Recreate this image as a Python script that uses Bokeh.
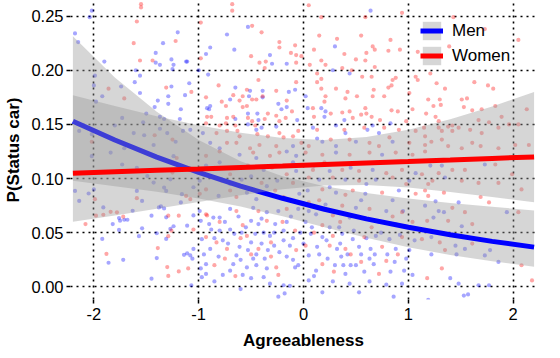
from bokeh.plotting import figure
from bokeh.models import Range1d, FixedTicker, NumeralTickFormatter, Legend, LegendItem
from bokeh.embed import file_html
from bokeh.resources import INLINE

# ---- fitted curves ----
grid_x = [-2.2, -1.8, -1.4, -1.0, -0.6, -0.2, 0.2, 0.6, 1.0, 1.4, 1.8, 2.2]
men_fit = [0.1530, 0.1356, 0.1198, 0.1057, 0.0930, 0.0818, 0.0717, 0.0628, 0.0550, 0.0481, 0.0420, 0.0367]
men_lo = [0.0979, 0.0930, 0.0878, 0.0817, 0.0742, 0.0651, 0.0550, 0.0453, 0.0367, 0.0295, 0.0236, 0.0187]
men_hi = [0.2313, 0.1934, 0.1616, 0.1357, 0.1160, 0.1022, 0.0930, 0.0866, 0.0816, 0.0775, 0.0739, 0.0706]
women_fit = [0.1050, 0.1063, 0.1076, 0.1089, 0.1103, 0.1116, 0.1130, 0.1144, 0.1157, 0.1171, 0.1186, 0.1200]
women_lo = [0.0602, 0.0660, 0.0721, 0.0784, 0.0847, 0.0901, 0.0936, 0.0941, 0.0917, 0.0877, 0.0830, 0.0782]
women_hi = [0.1769, 0.1669, 0.1576, 0.1493, 0.1424, 0.1374, 0.1356, 0.1383, 0.1450, 0.1547, 0.1665, 0.1799]

# ---- observations (x = agreeableness, y = probability) ----
men_points = [
    (-2.02,0.255),(-2.04,0.249),(-2.18,0.234),(-2.15,0.226),(-1.20,0.235),(-1.34,0.225),(-1.41,0.216),(-1.26,0.210),
    (-1.90,0.208),(-1.41,0.207),(-1.37,0.205),(-1.24,0.205),(-1.25,0.201),(-1.12,0.208),(-1.60,0.200),(-1.99,0.195),
    (-1.56,0.195),(-1.61,0.189),(-1.74,0.185),(-1.26,0.185),(-1.56,0.179),(-1.92,0.176),(-1.29,0.176),(-1.13,0.177),
    (-1.39,0.172),(-1.29,0.169),(-1.17,0.164),(-1.42,0.166),(-1.50,0.160),(-1.37,0.157),(-1.33,0.155),(-1.18,0.155),
    (-1.73,0.156),(-1.98,0.171),(-2.00,0.186),(-1.53,0.152),(-2.14,0.144),(-2.02,0.141),(-1.80,0.149),(-1.62,0.142),
    (-1.52,0.140),(-1.43,0.131),(-1.71,0.128),(-1.37,0.146),(-1.22,0.134),(-1.15,0.144),(-1.30,0.142),
    (-2.18,0.0886),(-2.14,0.0794),(-2.05,0.0862),(-2.00,0.090),(-1.91,0.0734),(-1.76,0.0636),(-1.75,0.0611),(-1.71,0.062),
    (-1.68,0.062),(-1.82,0.058),(-1.76,0.0526),(-1.92,0.0443),(-1.63,0.0703),(-1.59,0.0886),(-1.54,0.0794),(-1.73,0.113),
    (-1.45,0.0657),(-1.54,0.0541),(-1.57,0.0468),(-1.38,0.0734),(-1.36,0.0743),(-1.33,0.0724),(-1.31,0.0642),(-1.27,0.0535),
    (-1.24,0.056),(-1.31,0.0443),(-1.40,0.0495),(-1.40,0.0266),(-1.14,0.0296),(-1.45,0.0076),(-1.86,0.0223),(-1.72,0.025),
    (-1.11,0.0565),(-1.17,0.078),(-1.16,0.0856),(-1.59,0.110),(-1.27,0.0993),(-1.33,0.0917),(-1.43,0.0963),(-1.49,0.1023),
    (-1.24,0.1207),(-1.31,0.0886),(-1.84,0.124),(-2.02,0.1207),(-1.11,0.031),(-1.06,0.026),(-0.98,0.017),(-0.98,0.061),
    (-0.53,0.240),(-0.73,0.233),(-0.89,0.221),(-0.66,0.219),(-0.93,0.215),(-0.32,0.214),(-0.30,0.206),(-0.16,0.206),
    (-1.00,0.200),(-0.91,0.196),(-1.11,0.208),(-1.09,0.188),(-0.65,0.184),(-0.51,0.181),(-0.39,0.181),(-0.14,0.180),
    (-0.08,0.182),(-0.52,0.176),(-0.70,0.173),(-0.39,0.175),(-0.24,0.169),(-0.21,0.164),(-0.16,0.166),(-0.92,0.165),
    (-0.89,0.167),(-0.90,0.164),(-0.53,0.160),(-0.44,0.160),(-0.65,0.155),(-0.43,0.154),(-0.06,0.154),(-0.53,0.150),
    (-0.40,0.147),(-0.26,0.148),(-1.08,0.145),(-0.96,0.142),(-0.45,0.145),(-0.89,0.133),(-0.80,0.128),(-0.10,0.130),
    (0.64,0.255),(0.30,0.222),(0.28,0.200),(0.44,0.197),(0.02,0.176),(0.04,0.165),(0.17,0.165),(0.21,0.162),
    (0.20,0.157),(0.39,0.154),(0.83,0.151),(0.09,0.147),(0.31,0.149),(0.66,0.149),(0.61,0.145),(0.72,0.142),
    (0.40,0.142),(0.13,0.137),(0.18,0.134),(0.50,0.134),(0.85,0.134),(0.31,0.130),
    (-0.61,0.122),(-0.45,0.119),(-0.16,0.125),(-0.07,0.121),(-0.99,0.098),(-0.59,0.099),(-0.35,0.093),(-1.05,0.092),
    (-0.54,0.087),(-0.81,0.084),(-0.45,0.081),(-0.04,0.086),(-0.80,0.115),(-0.66,0.110),(-0.38,0.108),(-0.07,0.107),
    (-0.93,0.112),(-0.99,0.070),(-0.86,0.064),(-0.80,0.064),(-0.70,0.072),(-0.48,0.073),(-0.35,0.069),(-0.24,0.070),
    (-0.05,0.072),(-1.05,0.066),(-0.50,0.061),(-0.43,0.058),(-0.27,0.058),(-0.16,0.060),(-0.70,0.053),(-0.80,0.052),
    (-0.88,0.053),(-0.66,0.049),(-0.59,0.050),(-0.46,0.049),(-0.38,0.050),(-0.32,0.047),(-0.19,0.052),(-0.03,0.050),
    (-0.97,0.044),(-0.77,0.043),(-0.50,0.041),(-0.40,0.040),(-0.19,0.043),(-0.13,0.038),(-1.05,0.035),(-0.89,0.035),
    (-0.61,0.037),(-0.53,0.034),(-0.34,0.034),(-0.23,0.032),(-1.08,0.029),(-0.81,0.028),(-0.64,0.029),(-0.48,0.026),
    (-0.37,0.026),(-0.16,0.028),(-0.93,0.021),(-0.67,0.021),(-0.54,0.018),(-0.45,0.020),(-0.35,0.017),(-0.08,0.018),
    (-0.93,0.012),(-0.77,0.011),(-0.58,0.011),(-0.38,0.009),(-0.32,0.003),(-0.19,0.0015),(-0.13,0.001),(-0.24,-0.009),
    (-0.18,-0.006),(-1.07,0.0015),(-0.97,0.009),
    (0.31,0.124),(0.75,0.122),(0.25,0.107),(0.66,0.108),(1.07,0.105),(0.15,0.099),(0.40,0.099),(0.69,0.099),
    (1.01,0.098),(0.04,0.089),(0.31,0.087),(0.59,0.086),(0.91,0.089),(0.21,0.076),(0.50,0.073),(0.79,0.070),
    (0.12,0.067),(0.44,0.064),(0.72,0.060),(0.88,0.058),(0.02,0.060),(0.34,0.055),(0.07,0.049),(0.18,0.046),
    (0.37,0.049),(0.47,0.044),(0.69,0.047),(0.82,0.044),(1.06,0.043),(0.13,0.037),(0.32,0.035),(0.53,0.037),
    (0.64,0.035),(0.88,0.035),(1.01,0.034),(0.05,0.029),(0.23,0.026),(0.36,0.028),(0.45,0.020),(0.50,0.020),
    (0.63,0.026),(0.67,0.021),(0.87,0.023),(0.98,0.026),(0.12,0.015),(0.40,0.012),(0.58,0.014),(0.83,0.014),
    (1.04,0.011),(0.05,0.006),(0.28,0.005),(0.44,0.003),(0.63,0.005),(0.79,0.002),(0.94,0.003),(0.53,-0.005),
    (0.86,-0.009),(0.18,-0.005),
    (1.21,0.112),(1.32,0.112),(1.73,0.113),(1.35,0.101),(1.26,0.079),(1.16,0.075),(1.29,0.070),(1.34,0.069),
    (1.48,0.078),(1.94,0.069),(1.24,0.064),(1.51,0.056),(1.22,0.046),(1.45,0.038),(1.54,0.035),(1.78,0.034),
    (1.86,0.023),(1.73,0.029),(1.22,0.030),(1.46,0.030),(1.40,0.008),(1.48,0.003),(1.67,0.0015),(1.77,0.0015),
    (1.53,-0.008),(1.57,-0.007),(1.19,-0.012),
    (-0.10,0.045),(0.00,0.040),(0.08,0.055),(0.15,0.030),(0.22,0.043),(0.30,0.020),(0.35,0.040),(0.42,0.030),
    (0.48,0.052),(0.55,0.030),(0.60,0.045),(0.68,0.030),(0.74,0.050),(0.80,0.030),(0.92,0.048),(0.96,0.015),
    (-0.05,0.020),(0.10,0.010),(0.25,0.055),(0.38,0.020),(-0.90,0.058),(-0.75,0.060),(-0.62,0.065),(-0.55,0.055),
    (-0.40,0.063),(-0.28,0.050),(-0.12,0.065),(-0.95,0.030),(-0.85,0.045),(-0.72,0.040),(-0.60,0.025),(-0.45,0.030),
    (-0.28,0.038),(-0.10,0.025),(-0.70,0.015),(-0.50,0.008),(-0.85,0.005),(-0.60,-0.002),(-0.70,0.095),(-0.50,0.102),
    (-0.25,0.098),(-0.10,0.115),(0.10,0.112),(0.45,0.110),(0.60,0.095),(0.85,0.080),(0.95,0.070),(0.25,0.092),
    (0.55,0.080),(0.05,0.070),
]
women_points = [
    (-1.55,0.261),(-1.55,0.258),(-1.59,0.245),(-1.22,0.227),(-1.62,0.225),(-1.56,0.209),(-1.44,0.209),(-1.86,0.183),
    (-1.31,0.184),(-1.71,0.174),(-1.42,0.140),(-2.02,0.134),(-1.25,0.136),
    (-1.99,0.081),(-1.98,0.0657),(-2.08,0.058),(-1.91,0.0666),(-1.84,0.0693),(-1.78,0.0688),(-1.72,0.0648),(-1.59,0.0819),
    (-1.29,0.0657),(-1.19,0.0657),(-1.26,0.0519),(-1.29,0.0468),(-1.39,0.0358),(-1.30,0.0183),(-1.29,0.0101),(-1.19,0.0143),
    (-1.88,0.0305),(-1.12,0.084),(-1.25,0.1055),(-1.21,0.119),(-0.92,0.066),
    (-0.68,0.261),(-0.68,0.255),(-0.98,0.244),(-0.49,0.241),(-0.40,0.235),(-0.23,0.226),(-0.23,0.221),(-0.08,0.223),
    (-0.98,0.211),(-0.50,0.213),(-0.12,0.216),(-0.07,0.214),(-0.02,0.213),(-0.42,0.207),(-0.36,0.208),(-0.07,0.207),
    (-0.37,0.202),(-0.43,0.191),(-0.07,0.189),(-0.81,0.186),(-0.54,0.182),(-0.26,0.181),(-1.07,0.180),(-0.67,0.177),
    (-0.58,0.176),(-0.39,0.176),(-0.93,0.175),(-0.61,0.172),(-0.49,0.173),(-0.45,0.173),(-0.78,0.171),(-0.54,0.167),
    (-0.16,0.172),(-0.74,0.167),(-0.58,0.166),(-0.34,0.160),(-0.26,0.158),(-0.11,0.162),(-0.92,0.157),(-0.88,0.157),
    (-0.73,0.156),(-0.67,0.157),(-0.53,0.156),(-0.49,0.153),(-0.46,0.149),(-0.37,0.155),(-0.23,0.153),(-0.17,0.156),
    (-0.93,0.151),(-0.80,0.149),(-0.74,0.151),(-0.65,0.149),(-0.83,0.142),(-0.73,0.144),(-0.63,0.144),(-0.61,0.139),
    (-0.44,0.141),(-0.34,0.139),(-0.23,0.142),(-0.19,0.138),(-0.10,0.139),(-0.05,0.144),(-0.73,0.133),(-0.64,0.133),
    (-0.51,0.128),(-0.42,0.131),(-0.26,0.130),(-0.02,0.133),
    (0.05,0.260),(0.94,0.253),(0.17,0.249),(0.59,0.249),(0.32,0.229),(0.15,0.232),(0.55,0.232),(0.83,0.228),
    (0.10,0.219),(0.66,0.222),(0.68,0.219),(0.81,0.218),(0.92,0.219),(1.09,0.217),(0.39,0.215),(0.60,0.216),
    (0.50,0.210),(0.17,0.209),(0.59,0.209),(0.68,0.203),(0.21,0.205),(0.06,0.205),(0.37,0.202),(0.46,0.200),
    (0.13,0.197),(0.17,0.192),(0.56,0.194),(0.65,0.194),(0.85,0.191),(0.88,0.193),(0.13,0.189),(1.07,0.194),
    (0.17,0.183),(0.31,0.183),(0.42,0.180),(0.81,0.184),(0.84,0.186),(1.01,0.179),(1.09,0.191),(0.67,0.182),
    (0.21,0.176),(0.40,0.174),(0.51,0.176),(0.77,0.176),(0.66,0.176),(0.20,0.171),(0.09,0.165),(0.10,0.157),
    (0.26,0.160),(0.37,0.161),(0.44,0.162),(0.59,0.165),(0.60,0.160),(0.65,0.157),(0.47,0.156),(0.55,0.159),
    (0.73,0.154),(0.84,0.163),(0.90,0.162),(1.04,0.164),(0.98,0.153),(0.13,0.145),(0.39,0.145),(0.58,0.147),
    (0.77,0.147),(0.91,0.145),(1.07,0.144),(0.26,0.136),(0.44,0.136),(0.63,0.133),(0.82,0.138),(1.01,0.133),
    (0.05,0.130),(0.72,0.130),
    (2.05,0.228),(1.43,0.249),(1.73,0.238),(1.39,0.222),(1.21,0.197),(1.27,0.188),(1.35,0.183),(1.63,0.189),
    (1.76,0.186),(1.81,0.183),(1.19,0.173),(1.30,0.173),(1.51,0.173),(1.56,0.174),(1.31,0.168),(1.24,0.167),
    (1.53,0.166),(1.61,0.163),(1.17,0.160),(1.26,0.157),(1.70,0.164),(1.83,0.167),(2.13,0.164),(1.89,0.157),
    (1.29,0.153),(1.42,0.149),(1.67,0.154),(1.77,0.152),(1.15,0.147),(1.29,0.147),(1.38,0.148),(1.48,0.147),
    (1.59,0.145),(1.86,0.147),(1.96,0.150),(2.05,0.150),(1.32,0.144),(1.42,0.144),(1.70,0.142),(1.16,0.139),
    (1.22,0.134),(1.32,0.136),(1.61,0.133),(1.38,0.130),(1.16,0.131),(1.69,0.130),(1.86,0.128),(1.51,0.128),
    (2.02,0.131),(2.15,0.131),
    (-0.48,0.124),(-0.32,0.121),(-0.23,0.124),(-0.80,0.125),(-0.93,0.121),(-0.90,0.102),(-0.70,0.104),(-0.78,0.098),
    (-0.40,0.096),(-0.10,0.096),(-0.93,0.090),(-0.70,0.089),(-0.27,0.089),(-0.64,0.083),(-0.19,0.083),(-1.08,0.081),
    (-0.99,0.086),(-0.53,0.112),(-0.16,0.104),(-1.05,0.108),(-0.93,0.067),(-0.64,0.070),(-0.43,0.070),(-0.16,0.072),
    (-0.35,0.061),(-0.58,0.057),(-1.05,0.053),(-0.54,0.047),(-0.08,0.052),(-0.93,0.046),(-0.83,0.041),(-0.31,0.041),
    (-0.73,0.035),(-0.43,0.035),(-0.07,0.034),(-0.75,0.026),(-0.31,0.028),(-0.85,0.020),(-0.26,0.018),(-1.10,0.017),
    (-0.24,0.011),
    (0.02,0.124),(0.18,0.122),(0.44,0.122),(0.63,0.124),(0.88,0.124),(1.04,0.122),(0.09,0.108),(0.37,0.108),
    (0.53,0.107),(0.79,0.105),(0.94,0.108),(0.05,0.101),(0.28,0.101),(0.53,0.098),(0.85,0.101),(0.18,0.090),
    (0.47,0.089),(0.75,0.087),(1.07,0.086),(0.05,0.078),(0.37,0.075),(0.63,0.072),(0.94,0.069),(0.28,0.066),
    (0.59,0.063),(1.04,0.060),(0.18,0.057),(0.28,0.047),(0.58,0.046),(0.94,0.046),(0.02,0.038),(0.25,0.038),
    (0.40,0.035),(0.75,0.037),(0.18,0.021),(0.55,0.023),(0.79,0.024),(0.29,0.014),(0.72,0.012),
    (1.16,0.125),(1.29,0.105),(1.42,0.108),(1.54,0.108),(1.83,0.113),(1.13,0.104),(1.23,0.098),(1.19,0.095),
    (1.51,0.098),(1.67,0.096),(1.86,0.096),(2.08,0.090),(1.99,0.104),(1.16,0.089),(1.19,0.084),(1.34,0.087),
    (1.42,0.073),(1.54,0.069),(1.69,0.083),(1.77,0.078),(2.05,0.069),(1.18,0.061),(1.38,0.061),(1.61,0.058),
    (1.13,0.044),(1.30,0.041),(1.61,0.040),(2.08,0.020),(1.35,0.034),(1.32,0.017),(1.18,0.008),(2.18,0.006),
    (-0.80,0.060),(-0.60,0.045),(-0.50,0.030),(-0.20,0.060),(0.10,0.050),(0.35,0.060),(0.65,0.055),(0.85,0.065),
    (-0.65,0.010),(0.45,0.030),(0.90,0.030),(-0.30,0.110),(0.20,0.115),(0.70,0.115),(0.98,0.095),(-0.85,0.110),
    (0.40,0.085),(0.15,0.080),
]

x_ticks = [-2, -1, 0, 1, 2]
y_ticks = [0.0, 0.05, 0.10, 0.15, 0.20, 0.25]
group_labels = ["Men", "Women"]

FONT = "Liberation Sans"

p = figure(width=552, height=352, output_backend="svg", toolbar_location=None,
           x_range=Range1d(-2.223, 2.223), y_range=Range1d(-0.01165, 0.2644),
           min_border_left=70, min_border_right=16, min_border_top=0, min_border_bottom=51)
p.outline_line_color = None
p.background_fill_color = "white"
p.border_fill_color = "white"

men_x = [pt[0] for pt in men_points]
men_y = [pt[1] for pt in men_points]
women_x = [pt[0] for pt in women_points]
women_y = [pt[1] for pt in women_points]

p.scatter(men_x, men_y, size=4.2, fill_color="blue", fill_alpha=0.35, line_color=None)
p.scatter(women_x, women_y, size=4.2, fill_color="red", fill_alpha=0.35, line_color=None)

men_band = p.varea(x=grid_x, y1=men_lo, y2=men_hi, fill_color="#999999", fill_alpha=0.4)
men_line = p.line(grid_x, men_fit, line_color="blue", line_width=5)
women_band = p.varea(x=grid_x, y1=women_lo, y2=women_hi, fill_color="#999999", fill_alpha=0.4)
women_line = p.line(grid_x, women_fit, line_color="red", line_width=5)

# axes
for ax in (p.xaxis[0], p.yaxis[0]):
    ax.axis_line_color = None
    ax.major_tick_line_color = "black"
    ax.major_tick_line_width = 1.5
    ax.major_tick_out = 4
    ax.major_tick_in = 0
    ax.minor_tick_line_color = None
    ax.major_label_text_font = FONT
    ax.major_label_text_font_size = "16.5px"
    ax.major_label_text_color = "black"
    ax.axis_label_text_font = FONT
    ax.axis_label_text_font_size = "17px"
    ax.axis_label_text_font_style = "bold"
    ax.axis_label_text_color = "black"

p.xaxis.ticker = FixedTicker(ticks=x_ticks)
p.yaxis.ticker = FixedTicker(ticks=y_ticks)
p.xaxis.formatter = NumeralTickFormatter(format="0")
p.yaxis.formatter = NumeralTickFormatter(format="0.00")
p.xaxis.axis_label = "Agreeableness"
p.yaxis.axis_label = "P(Status car)"
p.xaxis.major_label_standoff = 4
p.xaxis.axis_label_standoff = 8
p.yaxis.major_label_standoff = 3
p.yaxis.axis_label_standoff = 5

# grid
for g in (p.xgrid[0], p.ygrid[0]):
    g.grid_line_color = "black"
    g.grid_line_width = 1.6
    g.grid_line_dash = "2 4"
p.xgrid.ticker = FixedTicker(ticks=x_ticks)
p.ygrid.ticker = FixedTicker(ticks=y_ticks)

legend = Legend(items=[LegendItem(label=group_labels[0], renderers=[men_band, men_line]),
                       LegendItem(label=group_labels[1], renderers=[women_band, women_line])],
                location=(350, 232), padding=0, margin=0, spacing=2,
                glyph_width=23, glyph_height=23, label_standoff=9,
                label_text_font=FONT, label_text_font_size="17px", label_text_color="black",
                background_fill_alpha=0, border_line_color=None)
p.add_layout(legend)

open("out.html", "w").write(file_html(p, INLINE))
